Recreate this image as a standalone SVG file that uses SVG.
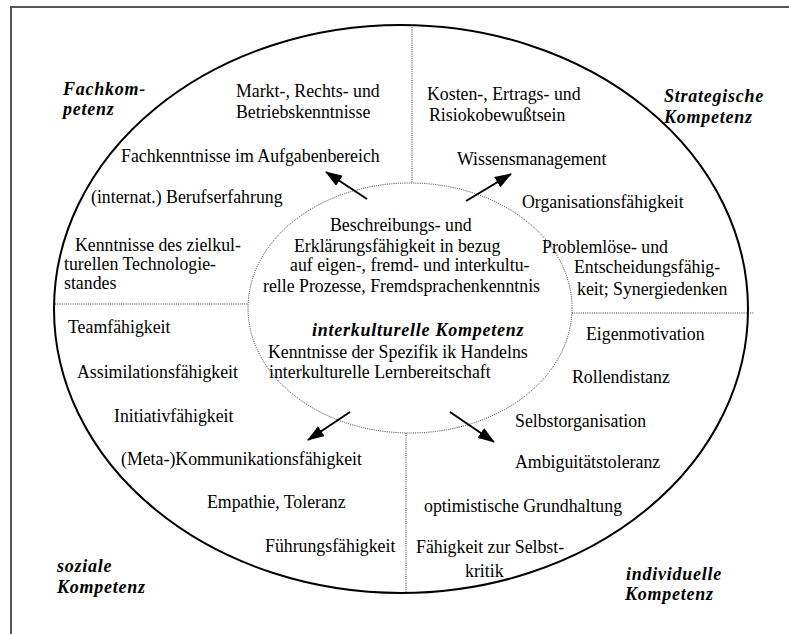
<svg xmlns="http://www.w3.org/2000/svg" width="789" height="634" viewBox="0 0 789 634">
<defs>
<style>
text{font-family:"Liberation Serif","Times New Roman",serif;font-size:17.8px;fill:#000}
.h{font-weight:bold;font-style:italic;font-size:18px;letter-spacing:0.75px}
.dot{fill:none;stroke:#333;stroke-width:1;stroke-dasharray:1 1.2}
.arr{stroke:#000;stroke-width:2;fill:none;marker-end:url(#ah)}
</style>
<marker id="ah" viewBox="0 0 17 12" refX="16" refY="6" markerWidth="17" markerHeight="12" markerUnits="userSpaceOnUse" orient="auto">
<path d="M0,0 L17,6 L0,12 z" fill="#000"/>
</marker>
</defs>
<rect width="789" height="634" fill="#fff"/>
<g id="frame">
<path d="M11,634 V7 H789" fill="none" stroke="#555" stroke-width="2"/>
<ellipse cx="401" cy="309" rx="347" ry="284" fill="none" stroke="#000" stroke-width="2"/>
<ellipse class="dot" cx="410" cy="308" rx="162" ry="125"/>
<line class="dot" x1="412" y1="25" x2="412" y2="183"/>
<line class="dot" x1="55" y1="304" x2="248" y2="304"/>
<line class="dot" x1="572" y1="313" x2="754" y2="313"/>
<line class="dot" x1="406" y1="433" x2="406" y2="593"/>
</g>
<g id="connectors">
<line class="arr" x1="367" y1="199" x2="326" y2="172"/>
<line class="arr" x1="466" y1="201" x2="511" y2="174"/>
<line class="arr" x1="350" y1="412" x2="308" y2="440"/>
<line class="arr" x1="450" y1="412" x2="494" y2="442"/>
</g>
<g id="fachkompetenz">
<text class="h" x="63" y="95">Fachkom-</text>
<text class="h" x="63" y="115">petenz</text>
<text x="236" y="97">Markt-, Rechts- und</text>
<text x="236" y="118">Betriebskenntnisse</text>
<text x="121" y="162">Fachkenntnisse im Aufgabenbereich</text>
<text x="91" y="203">(internat.) Berufserfahrung</text>
<text x="75" y="251">Kenntnisse des zielkul-</text>
<text x="64" y="270">turellen Technologie-</text>
<text x="64" y="289">standes</text>
</g>
<g id="strategische-kompetenz">
<text class="h" x="664" y="102">Strategische</text>
<text class="h" x="664" y="123">Kompetenz</text>
<text x="427" y="100">Kosten-, Ertrags- und</text>
<text x="429" y="121">Risiokobewußtsein</text>
<text x="457" y="165">Wissensmanagement</text>
<text x="522" y="208">Organisationsfähigkeit</text>
<text x="542" y="253">Problemlöse- und</text>
<text x="574" y="273">Entscheidungsfähig-</text>
<text x="577" y="295">keit; Synergiedenken</text>
</g>
<g id="interkulturelle-kompetenz">
<text x="330" y="231">Beschreibungs- und</text>
<text x="294" y="252">Erklärungsfähigkeit in bezug</text>
<text x="290" y="271">auf eigen-, fremd- und interkultu-</text>
<text x="263" y="292">relle Prozesse, Fremdsprachenkenntnis</text>
<text class="h" x="312" y="336">interkulturelle Kompetenz</text>
<text x="268" y="358">Kenntnisse der Spezifik ik Handelns</text>
<text x="269" y="378">interkulturelle Lernbereitschaft</text>
</g>
<g id="soziale-kompetenz">
<text x="68" y="333">Teamfähigkeit</text>
<text x="77" y="378">Assimilationsfähigkeit</text>
<text x="114" y="422">Initiativfähigkeit</text>
<text x="121" y="465">(Meta-)Kommunikationsfähigkeit</text>
<text x="207" y="508">Empathie, Toleranz</text>
<text x="265" y="552">Führungsfähigkeit</text>
<text class="h" x="57" y="572">soziale</text>
<text class="h" x="57" y="593">Kompetenz</text>
</g>
<g id="individuelle-kompetenz">
<text x="586" y="340">Eigenmotivation</text>
<text x="572" y="383">Rollendistanz</text>
<text x="515" y="427">Selbstorganisation</text>
<text x="515" y="468">Ambiguitätstoleranz</text>
<text x="424" y="512">optimistische Grundhaltung</text>
<text x="416" y="553">Fähigkeit zur Selbst-</text>
<text x="465" y="577">kritik</text>
<text class="h" x="626" y="580">individuelle</text>
<text class="h" x="625" y="600">Kompetenz</text>
</g>
</svg>
